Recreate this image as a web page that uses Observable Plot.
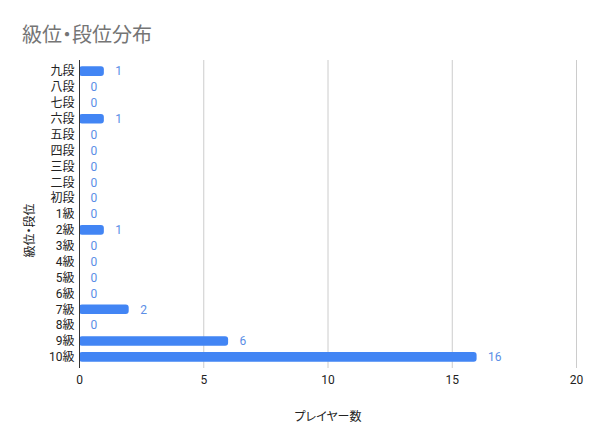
<!DOCTYPE html>
<html>
<head>
<meta charset="utf-8">
<script src="https://cdn.jsdelivr.net/npm/d3@7"></script>
<script src="https://cdn.jsdelivr.net/npm/@observablehq/plot@0.6"></script>
<style>
  html, body { margin: 0; padding: 0; background: #fff; }
  body { width: 616px; height: 448px; overflow: hidden; font-family: Roboto, "Noto Sans CJK JP", sans-serif; font-feature-settings: "palt"; }
  #title { box-sizing: border-box; height: 50px; padding: 24px 0 0 22px; font-size: 20px; line-height: 22px; color: #757575; font-feature-settings: "palt"; }
  svg { display: block; }
  svg text { font-feature-settings: "palt"; }
</style>
</head>
<body>
<div id="title">級位・段位分布</div>
<div id="chart"></div>
<script>
const ranks = ["九段","八段","七段","六段","五段","四段","三段","二段","初段","1級","2級","3級","4級","5級","6級","7級","8級","9級","10級"];
const players = [1,0,0,1,0,0,0,0,0,0,1,0,0,0,0,2,0,6,16];
const xTicks = [0,5,10,15,20];
const xLabel = "プレイヤー数";
const yLabel = "級位・段位";

const data = ranks.map((r, i) => ({rank: r, count: players[i]}));

const chart = Plot.plot({
  width: 616,
  height: 398,
  marginTop: 10,
  marginBottom: 80,
  marginLeft: 79,
  marginRight: 40,
  style: {fontFamily: 'Roboto, "Noto Sans CJK JP", sans-serif', fontSize: "12px", color: "#222", background: "#fff"},
  x: {domain: [0, 20], ticks: xTicks},
  y: {domain: ranks, padding: 0.4, round: false},
  marks: [
    Plot.gridX(xTicks, {stroke: "#cccccc", strokeOpacity: 1}),
    Plot.barX(data, {x: "count", y: "rank", fill: "#4285f4", rx: 3}),
    Plot.ruleX([0], {stroke: "#333"}),
    Plot.text(data, {x: "count", y: "rank", text: d => String(d.count), textAnchor: "start", dx: 11, fill: "#5b8ee6", fontSize: 12}),
    Plot.axisX(xTicks, {tickSize: 0, tickPadding: 7, label: null, fontSize: 12, fill: "#222"}),
    Plot.axisY({tickSize: 0, tickPadding: 5, label: null, fontSize: 12, fill: "#222"}),
    Plot.text([xLabel], {frameAnchor: "bottom", lineAnchor: "middle", textAnchor: "middle", dy: 49, text: d => d, fontSize: 12, fill: "#222"}),
    Plot.text([yLabel], {frameAnchor: "left", lineAnchor: "middle", textAnchor: "middle", dx: -49, dy: 16, rotate: -90, text: d => d, fontSize: 12, fill: "#222"})
  ]
});
document.getElementById("chart").appendChild(chart);
</script>
</body>
</html>
